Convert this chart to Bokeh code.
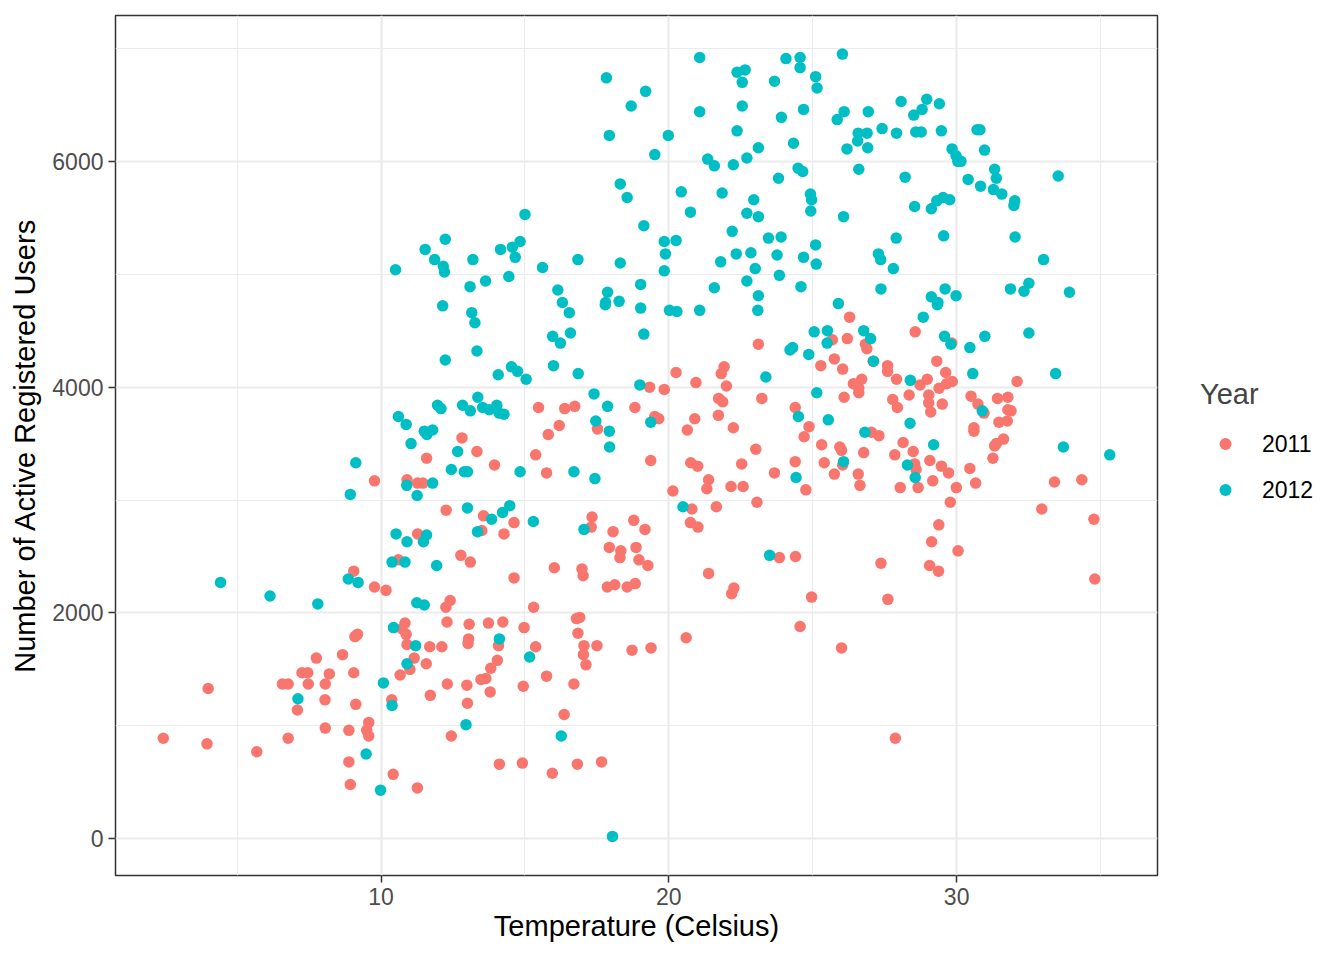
from bokeh.plotting import figure
from bokeh.models import ColumnDataSource, FixedTicker, Legend, LegendItem, Range1d
from bokeh.embed import file_html
from bokeh.resources import INLINE

# ---- data: (temperature in Celsius, registered users) ----
temp_2011 = [
    2.43, 3.99, 3.95, 5.68, 6.77, 6.57, 6.77, 7.09, 7.25, 7.45, 7.47, 7.75, 8.06, 8.2, 8.05, 8.06,
    8.66, 9.05, 9.09, 9.18, 9.12, 8.88, 8.88, 8.93, 9.57, 9.5, 9.57, 10.42, 11.26, 10.37, 10.83,
    10.72, 10.87, 10.9, 11.15, 11.0, 10.66, 11.69, 12.11, 11.57, 12.29, 12.25, 12.4, 12.3, 11.71,
    12.44,
    9.77, 10.9, 11.27, 11.45, 11.58, 12.81, 12.26, 11.27, 12.77, 10.6, 9.05, 9.77, 10.17,
    15.3, 13.06, 13.73, 14.23, 14.97, 16.79, 16.9, 16.84, 17.05, 17.5, 17.03, 17.12, 13.04, 13.02,
    14.08, 15.37, 14.04, 13.81, 13.64, 13.47, 13.79, 12.98, 13.0, 14.94, 15.75, 16.7, 16.36, 18.72,
    19.38, 20.6, 24.56, 24.96, 22.18, 14.11, 14.91, 15.95, 16.82, 17.66,
    23.11, 20.25, 21.92, 21.82, 20.94, 22.0, 19.33, 19.84, 23.23, 21.73, 21.87, 21.72, 15.47, 16.38,
    16.73, 18.82, 19.51, 19.65, 20.9, 20.64, 22.24, 24.39, 24.87, 24.7, 16.19, 15.81, 17.52, 13.33,
    13.94, 15.37, 15.75, 19.37, 23.02, 22.53, 20.76, 21.0, 23.67, 24.39, 21.38, 21.32, 20.14, 22.16,
    22.58, 24.76, 23.06, 20.8, 21.65, 20.75, 21.01, 13.56, 14.62, 13.5, 14.27, 13.1, 14.62, 17.33,
    17.3, 18.78, 19.17, 18.06, 17.93, 18.33, 18.86, 18.3, 18.96, 19.27, 16.02, 16.98, 17.02, 23.84,
    24.4, 21.38, 22.26, 17.86, 18.12, 18.55, 18.83,
    26.28, 28.56, 26.2, 25.68, 26.88, 26.83, 29.83, 29.31, 25.75, 25.28, 26.04, 27.1, 27.6, 27.6,
    27.91, 26.7, 26.41, 26.6, 26.6, 26.09, 27.78, 27.94, 28.35, 28.98, 28.73, 29.62, 29.39, 29.85,
    29.65, 29.03, 29.03, 29.1, 29.5, 32.1, 30.5, 31.42, 31.78, 30.74, 30.95, 31.89, 31.78, 31.47,
    31.76, 30.6, 30.6, 31.63, 31.32, 31.38, 31.26, 30.46, 30.66, 33.4, 34.35, 32.96, 34.77, 34.8,
    25.31, 25.94, 26.0, 25.4, 25.75, 26.04, 26.58, 26.64, 26.77, 27.04, 27.3, 28.14, 28.49, 27.85,
    28.54, 28.59, 29.07, 29.47, 29.72, 29.17, 28.04, 28.66, 29.99, 29.78, 29.38, 29.13, 30.05,
    29.06, 29.37, 27.37,
    27.61, 26.0, 27.87,
]
reg_2011 = [
    890, 1330, 840, 770, 890, 1370, 1370, 1140, 1470, 1470, 1370, 1600, 1370, 1460, 1230, 980,
    1630, 1470, 1790, 1810, 1190, 960, 680, 480, 1030, 960, 910, 570, 450, 1230, 1910,
    1860, 1810, 1720, 1600, 1500, 1450, 1700, 1700, 1550, 1920, 2050, 2110, 1370, 1270,
    910,
    3170, 3180, 3150, 3150, 3370, 3550, 2910, 2700, 2510, 2470, 2370, 2230, 2200,
    2050, 1900, 1910, 1920, 1870, 1950, 1960, 1820, 1710, 1710, 1630, 1540, 1770, 1730,
    1710, 1700, 1580, 1510, 1420, 1410, 1300, 1360, 1200, 1350, 1440, 1370, 1100, 1670,
    1690, 1780, 1880, 2140, 2170, 660, 670, 580, 660, 680,
    4380, 4130, 4180, 4120, 4040, 4010, 4000, 3980, 3900, 3900, 3870, 3750, 3820, 3810,
    3830, 3820, 3740, 3720, 3720, 3620, 3640, 3820, 3650, 3560, 3660, 3580, 3630, 3430,
    3310, 3400, 3240, 3350, 3450, 3320, 3330, 3300, 3240, 3340, 3180, 3100, 3080, 3120,
    3120, 3090, 2980, 2920, 2940, 2800, 2760, 2860, 2800, 2730, 2700, 2450, 2310, 2850,
    2760, 2820, 2740, 2720, 2580, 2550, 2580, 2490, 2470, 2420, 2400, 2390, 2330, 2490,
    2500, 2350, 2220, 2230, 2250, 2230, 2260,
    4620, 4490, 4430, 4420, 4340, 4380, 4390, 4230, 4250, 4190, 4160, 4230, 4190, 4140,
    4070, 4070, 4030, 3950, 3990, 3910, 3890, 3820, 3930, 4070, 4020, 4130, 3990, 4050,
    4030, 3930, 3860, 3780, 3850, 4050, 3920, 3900, 3910, 3850, 3770, 3790, 3800, 3690,
    3700, 3640, 3610, 3540, 3480, 3500, 3370, 3280, 3150, 3160, 3180, 2920, 2830, 2300,
    3490, 3470, 3440, 3330, 3230, 3310, 3230, 3130, 3420, 3600, 3570, 3510, 3430, 3400,
    3320, 3270, 3350, 3300, 3240, 3170, 3110, 3110, 3110, 2980, 2780, 2630, 2550,
    2420, 2370, 2440,
    2120, 1690, 890,
]

temp_2012 = [
    12.14, 12.23, 11.96, 12.08, 12.83, 10.6, 10.87, 11.5, 11.79, 11.59, 11.04, 12.66, 12.44, 12.89,
    9.12, 8.93, 11.79, 10.89, 11.25, 10.52, 10.9, 11.58, 11.47, 10.38, 10.83, 11.93, 13.0, 4.42,
    8.86, 9.2,
    6.14, 7.8, 11.24, 11.5, 10.43, 11.2, 10.9, 10.08, 10.38, 7.11, 9.48, 9.98, 12.95,
    14.11, 15.16, 16.26, 18.04,
    13.15, 13.26, 13.33, 14.07, 14.53, 14.74, 15.04, 16.3, 16.54, 15.96, 16.23, 16.58, 15.99, 16.85,
    17.79, 18.27, 19.02, 19.13, 20.02, 20.28, 21.07, 23.09, 24.21, 24.3, 24.86, 25.05, 23.37, 18.99,
    24.5, 13.36, 13.1, 13.53, 13.76, 14.02, 14.1, 14.27, 17.4, 17.87, 17.46, 17.93, 17.94, 19.37,
    14.83, 16.7, 17.43, 13.0, 14.47, 14.22, 13.84, 13.35, 15.29, 17.05, 20.49, 24.42, 23.5,
    25.89, 28.84, 29.33, 26.77, 27.01, 25.51, 25.5, 29.58, 29.8, 30.46, 30.98, 32.51, 30.56, 33.44,
    28.39, 27.11, 30.89, 28.38, 25.54, 26.81, 29.2, 26.07, 28.29, 28.56, 33.71, 35.32, 25.14,
    17.83, 19.19, 18.69, 17.93, 19.98, 19.51, 21.07, 21.07, 22.37, 22.65, 22.55, 22.55, 22.37, 23.11,
    22.71, 21.35, 21.58, 22.24, 24.07, 24.56, 24.56, 25.1, 25.15, 23.67, 23.91, 24.68, 24.33, 24.49,
    24.65, 23.81, 18.31, 18.55, 20.43, 20.75, 21.85, 22.95, 22.71, 23.11, 24.92, 24.96, 24.93, 19.13,
    22.2, 23.46, 23.9, 25.1, 15.0, 14.83, 14.56, 14.15, 14.66, 13.19, 13.63, 13.09, 14.44, 15.61,
    16.84, 18.31, 19.84, 20.25, 19.88, 19.84, 16.14, 17.87, 17.8, 19.02, 21.8, 22.34, 22.85, 23.0,
    22.71, 23.11, 21.58, 23.76, 23.84, 24.68, 24.59, 25.12,
    26.03, 28.07, 28.96, 28.8, 28.51, 29.4, 26.09, 25.85, 26.93, 26.58, 26.89, 26.56, 27.41, 27.91,
    28.58, 28.77, 29.47, 26.19, 26.91, 26.6, 28.21, 29.84, 29.98, 30.04, 30.15, 30.71, 30.81, 30.97,
    31.32, 31.38, 30.4, 30.83, 31.28, 31.57, 32.02, 31.99, 33.53, 26.07, 28.54, 29.12, 29.31, 29.53,
    29.76, 27.9, 29.55, 32.03, 27.28, 27.36, 27.8, 33.02, 27.37, 29.12, 29.35, 29.6, 29.98, 31.87,
    32.34, 32.51, 33.92,
    12.23, 11.53, 11.86, 12.16, 12.2, 10.5,
]
reg_2012 = [
    4720, 4240, 3840, 3810, 3840, 3740, 3670, 3610, 3620, 3580, 3500, 3430, 3270, 3250,
    3330, 3050, 3150, 3130, 3040, 2700, 2630, 2690, 2630, 2450, 2450, 2420, 2930, 2270,
    2300, 2270,
    2150, 2080, 2090, 2070, 1870, 1710, 1550, 1380, 1180, 1240, 750, 430, 1010,
    1770, 1610, 910, 20,
    4660, 4570, 4320, 4110, 4180, 4140, 4070, 4750, 4660, 4450, 4390, 4480, 4190, 4120,
    4730, 4760, 4700, 4470, 4680, 4670, 4680, 4680, 4330, 4350, 4290, 4490, 4090, 4020,
    3740, 3910, 3790, 3820, 3800, 3840, 3770, 3760, 3940, 3830, 3700, 3610, 3470, 3690,
    3250, 3250, 3190, 3250, 2950, 2890, 2830, 2720, 2810, 2740, 2940, 3200, 2510,
    4740, 4620, 4730, 4500, 4430, 4500, 4390, 4450, 4380, 4350, 4450, 4480, 4120, 4120,
    4060, 4230, 3790, 3680, 3710, 3600, 3490, 3340, 3310, 3200, 3470, 3400, 3950,
    6740, 6620, 6490, 6230, 6230, 6060, 6920, 6440, 6790, 6810, 6700, 6490, 6270, 6120,
    6030, 6020, 5960, 5970, 6910, 6920, 6830, 6750, 6650, 6710, 6390, 6460, 6160, 5940,
    5910, 5850, 5800, 5680, 5730, 5550, 5720, 5660, 5540, 5510, 5710, 5660, 5560, 5430,
    5380, 5320, 5330, 5260, 5530, 5290, 5240, 5220, 5150, 5130, 4940, 4890, 4980, 5060,
    5130, 5100, 5290, 5300, 5180, 5030, 4860, 4840, 4750, 4910, 5110, 5180, 5190, 5050,
    4940, 4810, 4880, 5170, 4990, 5150, 4890, 5090,
    6950, 6530, 6550, 6460, 6410, 6510, 6440, 6370, 6440, 6250, 6250, 6180, 6290, 6250,
    6260, 6260, 6270, 6110, 6120, 5930, 5860, 6110, 6050, 6000, 6000, 6280, 6280, 6100,
    5930, 5850, 5840, 5780, 5750, 5710, 5650, 5610, 5870, 5510, 5600, 5580, 5650, 5680,
    5660, 5320, 5340, 5330, 5180, 5130, 5050, 5130, 4870, 4800, 4750, 4870, 4810, 4870,
    4850, 4920, 4840,
    5310, 5220, 5130, 5070, 5020, 5040,
]

years = ["2011", "2012"]
colors = ["#F8766D", "#00BFC4"]
x_ticks = [10, 20, 30]
x_minor = [5, 15, 25, 35]
y_ticks = [0, 2000, 4000, 6000]
y_minor = [1000, 3000, 5000, 7000]

FONT = "Liberation Sans"

p = figure(
    frame_width=1042, frame_height=860,
    min_border_left=115, min_border_right=168, min_border_top=15, min_border_bottom=72,
    x_range=Range1d(0.77, 36.98), y_range=Range1d(-326, 7292),
    output_backend="svg", toolbar_location=None,
    background_fill_color="white", border_fill_color="white",
)
p.outline_line_color = "#333333"
p.outline_line_width = 1.5

src11 = ColumnDataSource(dict(x=temp_2011, y=reg_2011))
src12 = ColumnDataSource(dict(x=temp_2012, y=reg_2012))
r11 = p.scatter("x", "y", source=src11, size=11.5, color=colors[0], line_color=None)
r12 = p.scatter("x", "y", source=src12, size=11.5, color=colors[1], line_color=None)

p.xaxis.ticker = FixedTicker(ticks=x_ticks, minor_ticks=x_minor)
p.yaxis.ticker = FixedTicker(ticks=y_ticks, minor_ticks=y_minor)

for ax in (p.xaxis, p.yaxis):
    ax.axis_line_color = None
    ax.major_tick_line_color = "#333333"
    ax.major_tick_line_width = 1.5
    ax.major_tick_out = 7
    ax.major_tick_in = 0
    ax.minor_tick_line_color = None
    ax.major_label_text_font = FONT
    ax.major_label_text_font_size = "23px"
    ax.major_label_text_color = "#4D4D4D"
    ax.axis_label_text_font = FONT
    ax.axis_label_text_font_size = "29px"
    ax.axis_label_text_font_style = "normal"
    ax.axis_label_text_color = "black"

p.xaxis.axis_label = "Temperature (Celsius)"
p.yaxis.axis_label = "Number of Active Registered Users"
p.xaxis.major_label_standoff = 5
p.xaxis.axis_label_standoff = 2
p.yaxis.major_label_standoff = 5
p.yaxis.axis_label_standoff = 8

for g in (p.xgrid, p.ygrid):
    g.grid_line_color = "#EBEBEB"
    g.grid_line_width = 2.2
    g.minor_grid_line_color = "#EBEBEB"
    g.minor_grid_line_width = 1.1

legend = Legend(
    items=[LegendItem(label=years[0], renderers=[r11]),
           LegendItem(label=years[1], renderers=[r12])],
    location="center_left",
    title="Year",
    title_text_font=FONT, title_text_font_size="29px", title_text_font_style="normal",
    title_standoff=10,
    label_text_font=FONT, label_text_font_size="23px", label_text_color="black",
    glyph_width=50, glyph_height=30, label_height=46, label_standoff=12,
    spacing=0, padding=0, margin=43,
    border_line_color=None, background_fill_alpha=0,
)
p.add_layout(legend, "right")

open("out.html", "w").write(file_html(p, INLINE))
